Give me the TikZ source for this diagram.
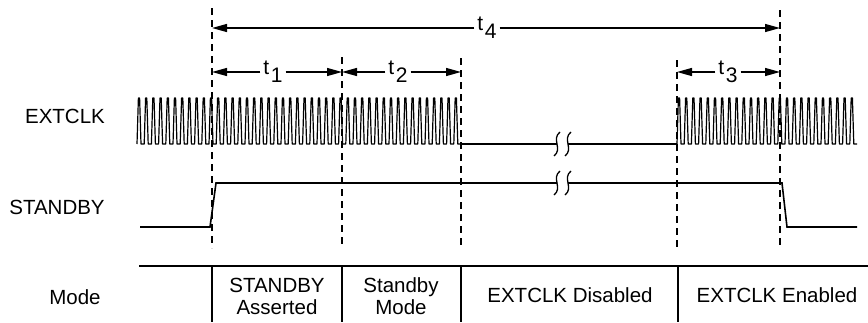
\documentclass[tikz,border=0pt]{standalone}
\usepackage{fontspec}
\setmainfont{Liberation Sans}
\usetikzlibrary{arrows.meta}
\tikzset{
  sig/.style={line width=1.6pt},
  clk/.style={line width=1.2pt, line join=round},
  guide/.style={line width=1.5pt, dash pattern=on 7pt off 5pt},
  dim/.style={line width=1.3pt, -{Triangle[length=15pt,width=8pt]}},
  tlab/.style={font=\fontsize{21}{21}\selectfont, inner xsep=3pt, inner ysep=0pt},
  txt/.style={font=\fontsize{20.5}{22}\selectfont, align=center, inner sep=0pt},
  brk/.pic={\draw[line width=1.3pt] (3,-12) .. controls (-6,-5) and (6,5) .. (-3,12);},
}
\newcommand{\tsub}[1]{t\kern1.5pt\raisebox{-8pt}{#1}}
\begin{document}
\begin{tikzpicture}[x=1pt, y=-1pt]
	\useasboundingbox (0,0) rectangle (868,322);
	% guide lines
	\draw[guide] (212,8) -- (212,248);
	\draw[guide] (342,57) -- (342,248);
	\draw[guide] (461,58) -- (461,248);
	\draw[guide] (677,60) -- (677,248);
	\draw[guide] (780,10) -- (780,248);
	% time spans
	\coordinate (ga) at (212,28);
	\coordinate (gb) at (780,28);
	\node[tlab] (t4) at (487,28) {\tsub{4}};
	\draw[dim] (t4) -- (ga);
	\draw[dim] (t4) -- (gb);
	\coordinate (ha) at (212,72);
	\coordinate (hb) at (342,72);
	\coordinate (hc) at (461,72);
	\coordinate (hd) at (677,72);
	\coordinate (he) at (780,72);
	\node[tlab] (t1) at (273,72) {\tsub{1}};
	\draw[dim] (t1) -- (ha);
	\draw[dim] (t1) -- (hb);
	\node[tlab] (t2) at (398,72) {\tsub{2}};
	\draw[dim] (t2) -- (hb);
	\draw[dim] (t2) -- (hc);
	\node[tlab] (t3) at (728,72) {\tsub{3}};
	\draw[dim] (t3) -- (hd);
	\draw[dim] (t3) -- (he);
	% signal names
	\node[txt] (extclk) at (65,116) {EXTCLK};
	\node[txt] (stby) at (57,207) {STANDBY};
	\node[txt] (mode) at (75,297) {Mode};
	% EXTCLK
	\draw[clk] (137,144) \foreach \i in {1,...,45} {
		-- ++(1.4,-46) -- ++(1.2,0) -- ++(1.4,46) -- ++(3.2,0) };
	\draw[sig] (461,144) -- (557,144);
	\draw[sig] (568,144) -- (677,144);
	\draw[clk] (677,144) \foreach \i in {1,...,25} {
		-- ++(1.4,-46) -- ++(1.2,0) -- ++(1.4,46) -- ++(3.2,0) };
	% STANDBY
	\draw[sig] (140,227) -- (210,227) -- (216,183) -- (557,183);
	\draw[sig] (568,183) -- (782,183) -- (787,227) -- (857,227);
	% breaks
	\pic at (557,144) {brk};
	\pic at (568,144) {brk};
	\pic at (557,183) {brk};
	\pic at (568,183) {brk};
	% mode table
	\draw[sig] (139,266) -- (868,266);
	\draw[sig] (212,266) -- (212,322);
	\draw[sig] (342,266) -- (342,322);
	\draw[sig] (461,266) -- (461,322);
	\draw[sig] (678,266) -- (678,322);
	\node[txt] (m1) at (277,296) {STANDBY\\Asserted};
	\node[txt] (m2) at (401,296) {Standby\\Mode};
	\node[txt] (m3) at (570,295) {EXTCLK Disabled};
	\node[txt] (m4) at (777,295) {EXTCLK Enabled};
\end{tikzpicture}
\end{document}
